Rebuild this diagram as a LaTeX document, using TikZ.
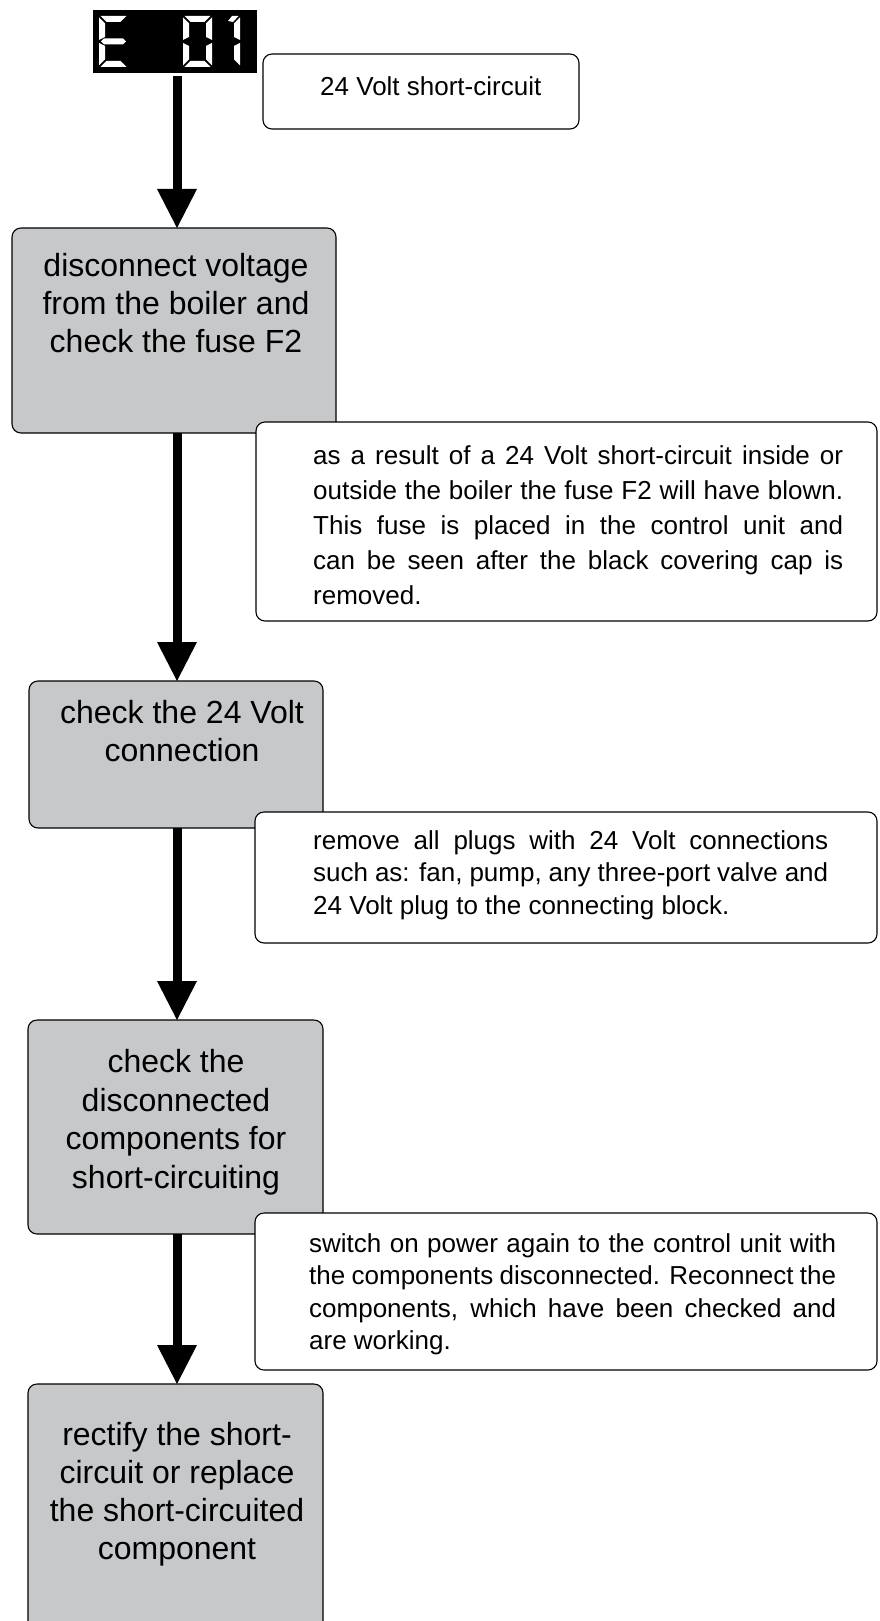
\documentclass[tikz,border=0pt]{standalone}
\usepackage{fontspec}
\setmainfont{Liberation Sans}
\usetikzlibrary{arrows.meta}
\definecolor{boxgray}{RGB}{199,200,202}
\newcommand\justline[2]{\makebox[#1][s]{#2}}
\tikzset{
  stepbox/.style={draw=black, line width=1.1pt, fill=boxgray, rounded corners=9pt, inner sep=0pt, outer sep=0pt, anchor=north west},
  notebox/.style={draw=black, line width=1.1pt, fill=white, rounded corners=9pt, inner sep=0pt, outer sep=0pt, anchor=north west},
  steptext/.style={inner sep=0pt, align=center, anchor=north, font=\fontsize{32}{38}\selectfont},
  notetext/.style={inner sep=0pt, align=left, anchor=north west, font=\fontsize{26}{32.5}\selectfont},
  flowarrow/.style={line width=9pt, -{Triangle[width=40pt,length=39pt,line width=0pt]}},
  segA/.pic={\fill[white] (1.5,51) -- (27.5,51) -- (21.5,45) -- (7.5,45) -- cycle;},
  segD/.pic={\fill[white] (1.5,0) -- (27.5,0) -- (21.5,6) -- (7.5,6) -- cycle;},
  segF/.pic={\fill[white] (0,49.5) -- (6,43.5) -- (6,30) -- (0,27) -- cycle;},
  segE/.pic={\fill[white] (0,1.5) -- (6,7.5) -- (6,21) -- (0,24) -- cycle;},
  segB/.pic={\fill[white] (29,49.5) -- (23,43.5) -- (23,30) -- (29,27) -- cycle;},
  segC/.pic={\fill[white] (29,1.5) -- (23,7.5) -- (23,21) -- (29,24) -- cycle;},
  segG/.pic={\fill[white] (2,25.5) -- (5,28.5) -- (24,28.5) -- (27,25.5) -- (24,22.5) -- (5,22.5) -- cycle;},
  segFlag/.pic={\fill[white] (17,46) -- (21,51) -- (27.5,51) -- (22,45) -- cycle;}
}
\begin{document}
\begin{tikzpicture}[x=1pt,y=-1pt]
\useasboundingbox (0,0) rectangle (879,1621);
\clip (0,0) rectangle (879,1621);

% error display
\node[fill=black, inner sep=0pt, outer sep=0pt, minimum width=164pt, minimum height=63pt, anchor=north west] (disp) at (93,10) {};
\begin{scope}[shift={(99,67)}, y=1pt, xslant=0.08]
  \pic {segA}; \pic {segD}; \pic {segE}; \pic {segF}; \pic {segG};
\end{scope}
\begin{scope}[shift={(183,67)}, y=1pt, xslant=0.08]
  \pic {segA}; \pic {segB}; \pic {segC}; \pic {segD}; \pic {segE}; \pic {segF};
\end{scope}
\begin{scope}[shift={(211,67)}, y=1pt, xslant=0.08]
  \pic {segB}; \pic {segC}; \pic {segFlag};
\end{scope}

% caption box
\node[notebox, minimum width=316pt, minimum height=75pt] (cap) at (263,54) {};
\node[inner sep=0pt, anchor=base west, font=\fontsize{26}{32}\selectfont] (capt) at (320,96) {24 Volt short-circuit};

% step boxes and notes
\node[stepbox, minimum width=324pt, minimum height=205pt] (b1) at (12,228) {};
\node[steptext] (t1) at (176,253) {disconnect voltage\\from the boiler and\\check the fuse F2};
\node[notebox, minimum width=621pt, minimum height=199pt] (n1) at (256,422) {};
\node[notetext, font=\fontsize{26}{35}\selectfont] (nt1) at (313,445) {%
\justline{530pt}{as a result of a 24 Volt short-circuit inside or}\\
\justline{530pt}{outside the boiler the fuse F2 will have blown.}\\
\justline{530pt}{This fuse is placed in the control unit and}\\
\justline{530pt}{can be seen after the black covering cap is}\\
removed.};

\node[stepbox, minimum width=294pt, minimum height=147pt] (b2) at (29,681) {};
\node[steptext] (t2) at (182,700) {check the 24 Volt\\connection};
\node[notebox, minimum width=622pt, minimum height=131pt] (n2) at (255,812) {};
\node[notetext] (nt2) at (313,830) {%
\justline{515pt}{remove all plugs with 24 Volt connections}\\
\justline{515pt}{such as: fan, pump, any three-port valve and}\\
24 Volt plug to the connecting block.};

\node[stepbox, minimum width=295pt, minimum height=214pt] (b3) at (28,1020) {};
\node[steptext, font=\fontsize{32}{38.7}\selectfont] (t3) at (176,1049) {check the\\disconnected\\components for\\short-circuiting};
\node[notebox, minimum width=622pt, minimum height=157pt] (n3) at (255,1213) {};
\node[notetext] (nt3) at (309,1233) {%
\justline{527pt}{switch on power again to the control unit with}\\
\justline{527pt}{the components disconnected. Reconnect the}\\
\justline{527pt}{components, which have been checked and}\\
are working.};

\node[stepbox, minimum width=295pt, minimum height=260pt] (b4) at (28,1384) {};
\node[steptext] (t4) at (177,1422) {rectify the short-\\circuit or replace\\the short-circuited\\component};

% connectors
\coordinate (ax) at (177,0);
\draw[flowarrow] (disp.south -| ax) ++(0,3) -- (b1.north -| ax);
\draw[flowarrow] (b1.south -| ax) -- (b2.north -| ax);
\draw[flowarrow] (b2.south -| ax) -- (b3.north -| ax);
\draw[flowarrow] (b3.south -| ax) -- (b4.north -| ax);
\end{tikzpicture}
\end{document}
